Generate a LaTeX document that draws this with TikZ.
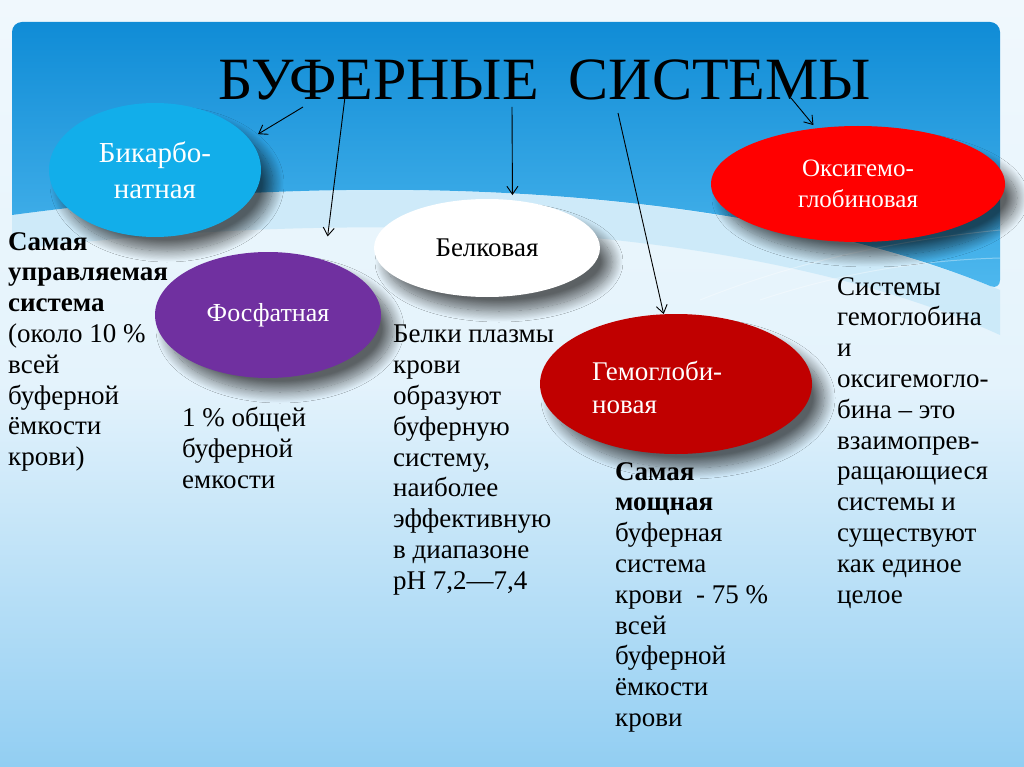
\documentclass[tikz,border=0pt]{standalone}
\usepackage{fontspec}
\setmainfont{Liberation Serif}
\usetikzlibrary{shapes.geometric,shadows.blur,arrows.meta}
\definecolor{bgtop}{RGB}{240,248,253}
\definecolor{bgmid}{RGB}{228,243,252}
\definecolor{bgbot}{RGB}{146,206,242}
\definecolor{bandtop}{RGB}{16,140,214}
\definecolor{bandbot}{RGB}{78,184,238}
\definecolor{wavelight}{RGB}{184,226,248}
\definecolor{bicblue}{RGB}{18,174,234}
\definecolor{phpurple}{RGB}{112,48,160}
\definecolor{hemred}{RGB}{192,0,0}
\definecolor{oxred}{RGB}{255,0,0}
\begin{document}
\begin{tikzpicture}[x=1pt,y=-1pt,
  ell/.style={ellipse, inner sep=0pt, text=white, align=center,
    blur shadow={shadow xshift=12pt, shadow yshift=-14pt, shadow blur radius=11pt, shadow blur steps=20, shadow opacity=60}},
  arr/.style={-{Straight Barb[length=8pt,width=11pt]}, line width=0.9pt, black},
  body/.style={anchor=north west, inner sep=0pt, align=left, text=black, font=\fontsize{27}{30.8}\selectfont}]
\useasboundingbox (0,0) rectangle (1024,767);
% background
\shade[top color=bgtop, bottom color=bgbot, middle color=bgmid] (0,0) rectangle (1024,767);
\fill[wavelight, opacity=0.55] (1000,335) .. controls (780,235) and (420,200) .. (12,250) -- (12,215) .. controls (420,160) and (780,200) .. (1000,290) -- cycle;
\shade[top color=bandtop, bottom color=bandbot, rounded corners=10pt] (12,215) -- (12,22) -- (1000,22) -- (1000,290) [sharp corners] .. controls (780,200) and (420,160) .. (12,215) -- cycle;
\draw[white, opacity=0.35, line width=1pt] (700,300) .. controls (800,260) and (900,240) .. (1000,230);
\draw[white, opacity=0.35, line width=1pt] (760,300) .. controls (850,270) and (930,260) .. (1000,258);
% title
\node[inner sep=0pt, text=black, font=\fontsize{60}{60}\selectfont] (title) at (545,80) {БУФЕРНЫЕ\ \ СИСТЕМЫ};
% ellipses
\node[ell, fill=bicblue, minimum width=212pt, minimum height=134pt, font=\fontsize{29}{36}\selectfont] (bic) at (155,170) {Бикарбо-\\натная};
\node[ell, fill=phpurple, minimum width=226pt, minimum height=126pt, font=\fontsize{26}{30}\selectfont] (pho) at (268,315) {Фосфатная};
\node[ell, fill=white, text=black, minimum width=226pt, minimum height=98pt, font=\fontsize{27}{30}\selectfont] (bel) at (487,248) {Белковая};
\node[ell, fill=hemred, minimum width=272pt, minimum height=140pt] (hem) at (676,384) {};
\node[ell, fill=oxred, minimum width=294pt, minimum height=116pt, font=\fontsize{25}{31}\selectfont] (oxy) at (858,184) {Оксигемо-\\глобиновая};
\node[anchor=west, inner sep=0pt, text=white, align=left, font=\fontsize{27}{33}\selectfont] (hemt) at (592,387) {Гемоглоби-\\новая};
% arrows
\coordinate (t1) at (303,107);
\coordinate (t2) at (345,97);
\coordinate (t3) at (512,107);
\coordinate (t4) at (618,113);
\coordinate (t5) at (791,98);
\draw[arr, shorten >=10pt] (t1) -- (bic.18.6);
\draw[arr, shorten >=24pt] (t2) -- (pho.44);
\draw[arr, shorten >=5pt] (t3) -- (bel.62.4);
\draw[arr] (t4) -- (hem.100.6);
\draw[arr, shorten >=4pt] (t5) -- (oxy.127);
% texts
\node[body] (tl) at (8,232) {\textbf{Самая}\\\textbf{управляемая}\\\textbf{система}\\(около 10 \%\\всей\\буферной\\ёмкости\\крови)};
\node[body] (tph) at (182,407) {1 \% общей\\буферной\\емкости};
\node[body] (tbel) at (393,325) {Белки плазмы\\крови\\образуют\\буферную\\систему,\\наиболее\\эффективную\\в диапазоне\\pH 7,2—7,4};
\node[body] (themo) at (615,462) {\textbf{Самая}\\\textbf{мощная}\\буферная\\система\\крови \ - 75 \%\\всей\\буферной\\ёмкости\\крови};
\node[body] (tox) at (837,277) {Системы\\гемоглобина\\и\\оксигемогло-\\бина – это\\взаимопрев-\\ращающиеся\\системы и\\существуют\\как единое\\целое};
\end{tikzpicture}
\end{document}
